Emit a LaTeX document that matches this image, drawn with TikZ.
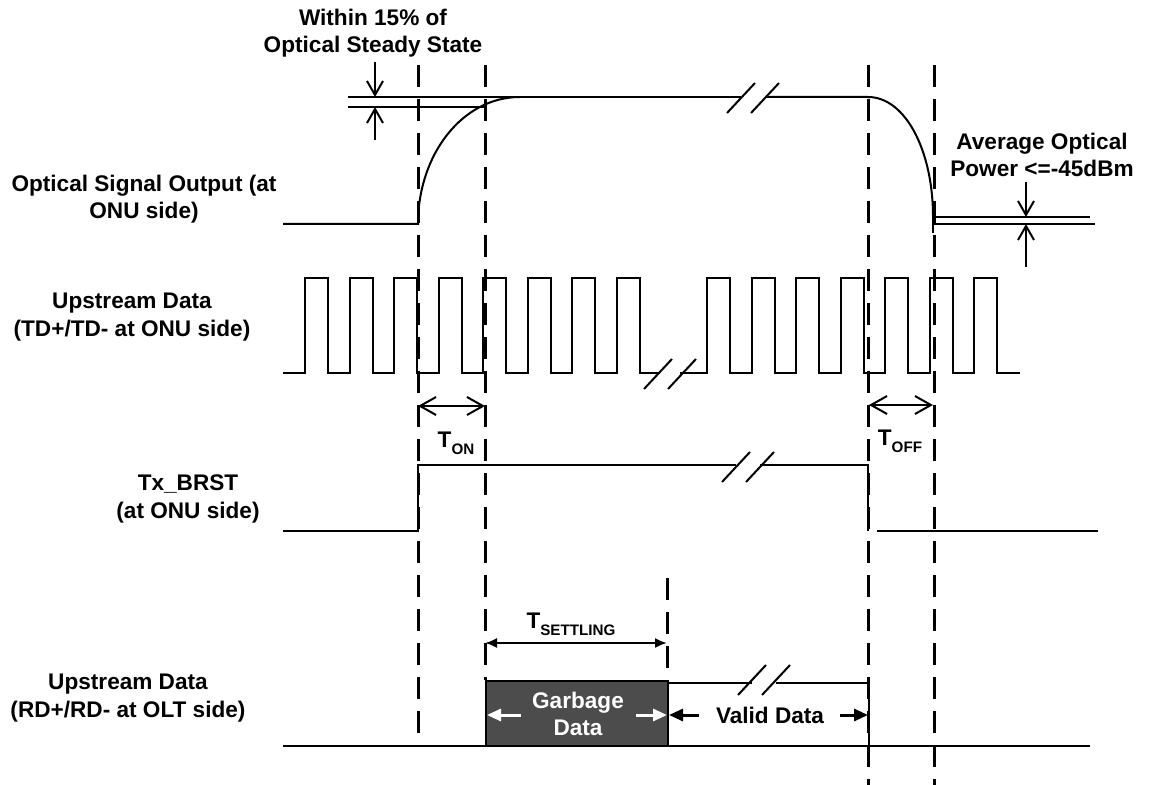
\documentclass[tikz,border=0pt]{standalone}
\usepackage{fontspec}
\setmainfont{Liberation Sans}
\usetikzlibrary{arrows.meta}
\newcommand{\tsub}[1]{\raisebox{-3.5pt}{\fontsize{7.6}{9}\selectfont #1}}
\tikzset{
  wave/.style={line width=1pt},
  guide/.style={line width=1.5pt, dash pattern=on 11pt off 6pt},
  pointer/.style={-{Straight Barb[length=7pt,width=8pt]}, line width=1pt},
  dimarrow/.style={{Straight Barb[length=8pt,width=9pt]}-{Straight Barb[length=8pt,width=9pt]}, line width=1pt},
  setarrow/.style={{Latex[length=6pt,width=5pt]}-{Latex[length=6pt,width=5pt]}, line width=1pt},
  fillarrow/.style={-{Triangle[length=7pt,width=6pt]}, line width=1.5pt},
  lbl/.style={font=\fontsize{11.3}{13.8}\selectfont\bfseries, align=center, inner sep=0pt},
  brkmark/.pic={\draw[wave] (-26,15) -- (2,-15) (-2,15) -- (26,-15);}
}

\begin{document}
\begin{tikzpicture}[x=0.5pt, y=-0.5pt]
  \useasboundingbox (0,0) rectangle (1160,785);

  % signal names
  \node[lbl] (optname) at (144,199) {Optical Signal Output (at\\ ONU side)};
  \node[lbl] (tdname) at (132,317) {Upstream Data\\ (TD+/TD- at ONU side)};
  \node[lbl] (txname) at (188,499) {Tx\_BRST\\ (at ONU side)};
  \node[lbl] (rdname) at (128,698) {Upstream Data\\ (RD+/RD- at OLT side)};

  % timing guides
  \draw[guide] (418,65) -- (418,745);
  \draw[guide] (485,65) -- (485,680);
  \draw[guide] (868,65) -- (868,785);
  \draw[guide] (934,65) -- (934,785);
  \draw[guide] (667,578) -- (667,681);

  % optical output
  \draw[wave] (283,224) -- (418,224) .. controls (418,155) and (462,97) .. (520,97);
  \draw[wave] (348,97) -- (741,97);
  \draw[wave] (765,97) -- (868,97) .. controls (905,97) and (933,150) .. (933,217);
  \draw[wave] (348,107) -- (485,107);
  \pic at (753,98) {brkmark};
  \draw[wave] (933,213) -- (933,233);
  \draw[wave] (933,217) -- (1090,217);
  \draw[wave] (933,224) -- (1095,224);

  \node[lbl] (within) at (373,33) {Within 15\% of\\ Optical Steady State};
  \coordinate (w1) at (375,62);
  \coordinate (w2) at (375,97);
  \coordinate (w3) at (375,140);
  \coordinate (w4) at (375,107);
  \draw[pointer] (w1) -- (w2);
  \draw[pointer] (w3) -- (w4);

  \node[lbl] (avg) at (1042,155) {Average Optical\\ Power <=-45dBm};
  \coordinate (a1) at (1026,182);
  \coordinate (a2) at (1026,217);
  \coordinate (a3) at (1026,267);
  \coordinate (a4) at (1026,224);
  \draw[pointer] (a1) -- (a2);
  \draw[pointer] (a3) -- (a4);

  % upstream data at ONU
  \draw[wave] (283,373) \foreach \x in {305,349.5,...,617} { -- (\x,373) -- (\x,278) -- (\x+23,278) -- (\x+23,373) } -- (660,373);
  \draw[wave] (680,373) \foreach \x in {707,751.5,...,975} { -- (\x,373) -- (\x,278) -- (\x+23,278) -- (\x+23,373) } -- (1020,373);
  \pic at (670,374) {brkmark};

  \coordinate (tonL) at (418,406);
  \coordinate (tonR) at (485,406);
  \draw[dimarrow] (tonL) -- (tonR);
  \node[lbl, anchor=base] (ton) at (456,447) {T\tsub{ON}};
  \coordinate (toffL) at (869,405);
  \coordinate (toffR) at (933,405);
  \draw[dimarrow] (toffL) -- (toffR);
  \node[lbl, anchor=base] (toff) at (900,445) {T\tsub{OFF}};

  % Tx_BRST
  \draw[wave] (283,531) -- (418,531) -- (418,465) -- (736,465);
  \draw[wave] (760,465) -- (868,465) -- (868,531);
  \draw[wave] (877,531) -- (1098,531);
  \pic at (748,467) {brkmark};

  % upstream data at OLT
  \coordinate (setL) at (485,643);
  \coordinate (setR) at (667,643);
  \draw[setarrow] (setL) -- (setR);
  \node[lbl, anchor=base] (tset) at (571,628) {T\tsub{SETTLING}};

  \draw[wave] (283,746) -- (1090,746);
  \draw[wave, fill=black!70] (486,681) rectangle (668,746);
  \draw[wave] (668,683) -- (752,683);
  \draw[wave] (776,683) -- (869,683) -- (869,746);
  \pic at (764,680) {brkmark};

  \node[lbl, text=white] (garbage) at (578,714) {Garbage\\ Data};
  \coordinate (g1) at (521,715);
  \coordinate (g2) at (487,715);
  \coordinate (g3) at (636,715);
  \coordinate (g4) at (667,715);
  \draw[fillarrow, white] (g1) -- (g2);
  \draw[fillarrow, white] (g3) -- (g4);

  \node[lbl] (valid) at (770,715) {Valid Data};
  \coordinate (v1) at (699,715);
  \coordinate (v2) at (669,715);
  \coordinate (v3) at (840,715);
  \coordinate (v4) at (868,715);
  \draw[fillarrow] (v1) -- (v2);
  \draw[fillarrow] (v3) -- (v4);
\end{tikzpicture}
\end{document}
